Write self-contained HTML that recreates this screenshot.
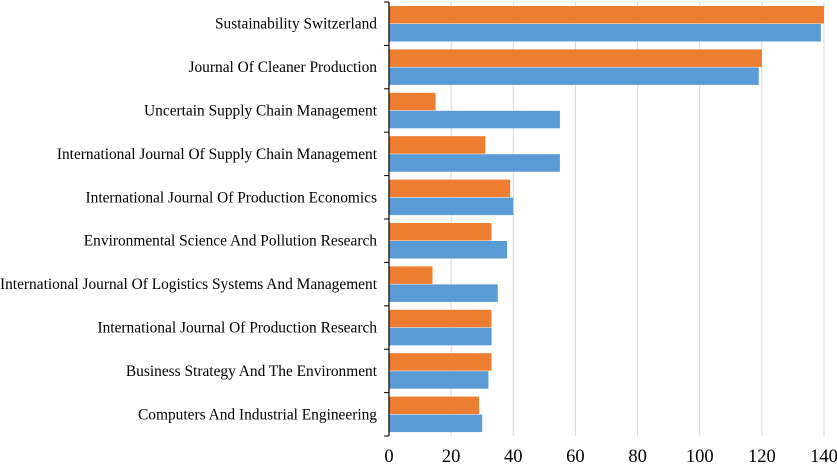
<!DOCTYPE html>
<html><head><meta charset="utf-8"><style>
html,body{margin:0;padding:0;background:#fff;}
svg{display:block;font-family:"Liberation Serif",serif;}
</style></head><body>
<svg id="c" width="837" height="464"></svg>
<script>
const categories=["Sustainability Switzerland","Journal Of Cleaner Production","Uncertain Supply Chain Management","International Journal Of Supply Chain Management","International Journal Of Production Economics","Environmental Science And Pollution Research","International Journal Of Logistics Systems And Management","International Journal Of Production Research","Business Strategy And The Environment","Computers And Industrial Engineering"];
const orangeValues=[140,120,15,31,39,33,14,33,33,29];
const blueValues=[139,119,55,55,40,38,35,33,32,30];
const xTicks=[0,20,40,60,80,100,120,140];
const NS="http://www.w3.org/2000/svg";
const svg=document.getElementById('c');
const x0=389,x1=824,y0=2,y1=436;
const xs=v=>x0+v/140*(x1-x0);
const band=(y1-y0)/categories.length;
function mk(t,a){const e=document.createElementNS(NS,t);for(const k in a)e.setAttribute(k,a[k]);svg.appendChild(e);return e;}
xTicks.forEach(t=>{
 if(t>0){const g=mk('line',{x1:xs(t),x2:xs(t),y1:y0,y2:y1,stroke:'#d9d9d9','stroke-width':1});
 
 }
 const l=mk('text',{x:xs(t),y:462,'text-anchor':'middle','font-size':18.5,fill:'#000'});l.textContent=t;
 
 
});
categories.forEach((c,i)=>{
 const top=y0+i*band;
 const o=mk('rect',{x:x0,y:top+4,width:xs(orangeValues[i])-x0,height:17.5,fill:'#ed7d31'});
 
 
 const b=mk('rect',{x:x0,y:top+22,width:xs(blueValues[i])-x0,height:17.5,fill:'#5b9bd5'});
 
 
 const l=mk('text',{x:377,y:top+band/2+5,'text-anchor':'end','font-size':15.4,fill:'#000'});l.textContent=c;
 
 
});
for(let i=0;i<=categories.length;i++){const y=y0+i*band;const t=mk('line',{x1:x0-5,x2:x0,y1:y,y2:y,stroke:'#000'});
 
 }
const ax=mk('line',{x1:x0,x2:x0,y1:y0,y2:y1,stroke:'#000','stroke-width':1.2});


</script>
</body></html>
